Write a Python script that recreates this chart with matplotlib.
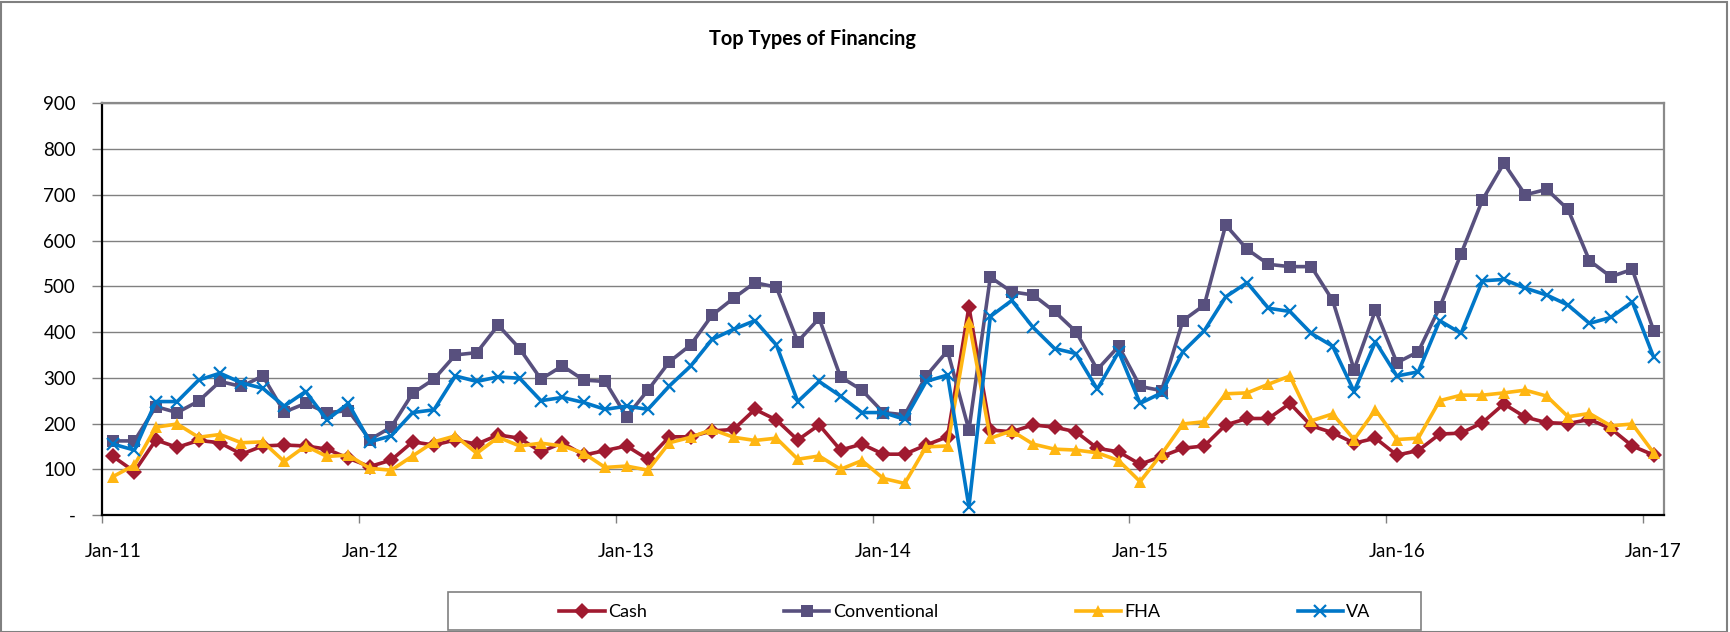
import numpy as np
import matplotlib
matplotlib.use("Agg")
import matplotlib.pyplot as plt
from matplotlib.patches import Rectangle
from matplotlib.ticker import FixedLocator, FuncFormatter

plt.rcParams['font.family'] = ['Lato', 'DejaVu Sans']

# Monthly counts, Jan-11 through Jan-17 (73 months)
cash = [128, 95, 164, 148, 163, 158, 133, 151, 153, 151, 144, 124,
        106, 120, 160, 153, 164, 155, 175, 168, 138, 158, 131, 141,
        151, 122, 171, 171, 184, 187, 231, 208, 164, 197, 142, 155,
        133, 133, 153, 171, 455, 186, 182, 197, 192, 182, 146, 138,
        111, 128, 146, 151, 197, 211, 211, 244, 195, 180, 157, 168,
        131, 141, 177, 179, 202, 243, 214, 202, 200, 209, 189, 151,
        131]
conventional = [162, 162, 237, 224, 249, 292, 281, 304, 225, 244, 224, 228,
                165, 192, 266, 297, 350, 355, 415, 364, 297, 326, 295, 292,
                215, 273, 335, 372, 437, 474, 508, 498, 379, 430, 302, 273,
                224, 219, 304, 359, 186, 520, 488, 481, 445, 401, 318, 369,
                281, 272, 425, 459, 634, 581, 548, 543, 543, 469, 318, 448,
                333, 357, 454, 571, 689, 769, 700, 712, 668, 556, 521, 537,
                403]
fha = [84, 109, 192, 199, 170, 176, 158, 160, 117, 151, 128, 131,
       102, 98, 129, 160, 173, 135, 170, 151, 157, 151, 135, 104,
       107, 98, 158, 170, 187, 170, 163, 168, 122, 129, 100, 119,
       80, 69, 149, 151, 423, 168, 184, 155, 144, 142, 136, 119,
       73, 133, 199, 204, 265, 267, 286, 304, 206, 221, 165, 230,
       165, 168, 250, 262, 262, 267, 273, 260, 215, 222, 195, 199,
       136]
va = [155, 142, 248, 248, 295, 310, 289, 277, 238, 270, 208, 244,
      160, 173, 224, 230, 304, 292, 302, 299, 250, 257, 246, 231,
      238, 231, 282, 326, 384, 406, 425, 372, 248, 292, 260, 224,
      224, 209, 292, 306, 18, 434, 469, 410, 364, 353, 275, 357,
      244, 267, 357, 403, 477, 508, 452, 445, 397, 369, 270, 379,
      304, 313, 425, 397, 512, 515, 496, 481, 459, 419, 432, 466,
      345]
year_labels = ['Jan-11', 'Jan-12', 'Jan-13', 'Jan-14', 'Jan-15', 'Jan-16', 'Jan-17']

months = np.arange(len(cash))

fig = plt.figure(figsize=(17.31, 6.32), dpi=100)
ax = fig.add_axes([0.0591, 0.1851, 0.9024, 0.6514])

series = [
    ('Cash', cash, '#A01A30', 'D', 8),
    ('Conventional', conventional, '#58507E', 's', 9),
    ('FHA', fha, '#FFB612', '^', 9),
    ('VA', va, '#0077C8', 'x', 8),
]
handles = []
for name, vals, color, marker, ms in series:
    extra = {'markeredgewidth': 1.6} if marker == 'x' else {'markeredgewidth': 0}
    h, = ax.plot(months, vals, color=color, lw=2.6, marker=marker,
                 markersize=ms, markerfacecolor=color, markeredgecolor=color,
                 label=name, **extra)
    handles.append(h)

ax.set_xlim(-0.5, len(cash) - 0.5)
ax.set_ylim(0, 900)

# y axis
ax.set_yticks(np.arange(0, 901, 100))
ax.yaxis.set_major_formatter(FuncFormatter(lambda v, p: '-' if v == 0 else f'{int(v)}'))
ax.tick_params(axis='y', length=7, width=1, color='#808080', pad=12, labelsize=13.5)
ax.grid(axis='y', color='#808080', lw=1)
ax.set_axisbelow(True)

# x axis: labels on January points, ticks on year boundaries
ax.xaxis.set_major_locator(FixedLocator(np.arange(0, len(cash), 12)))
ax.set_xticklabels(year_labels)
ax.xaxis.set_minor_locator(FixedLocator(np.arange(-0.5, len(cash) - 1, 12)))
ax.tick_params(axis='x', which='major', length=0, pad=20, labelsize=13.5)
ax.tick_params(axis='x', which='minor', length=6, width=1, color='#808080')

for side in ['left', 'bottom']:
    ax.spines[side].set_color('black')
    ax.spines[side].set_linewidth(1.6)
for side in ['top', 'right']:
    ax.spines[side].set_color('#8a8a8a')
    ax.spines[side].set_linewidth(1.6)

fig.text(813 / 1731, 1 - 38.6 / 632, 'Top Types of Financing', ha='center', va='center',
         fontsize=14.4, fontweight='bold')

# legend box and entries
fig.patches.append(Rectangle((448 / 1731, 2 / 632), 973 / 1731, 38 / 632,
                             transform=fig.transFigure, fill=False,
                             edgecolor='#808080', lw=1.2))
fig.legend(handles=handles, loc='center', bbox_to_anchor=(965 / 1731, 1 - 612 / 632),
           ncol=4, frameon=False, fontsize=13, handlelength=2.5,
           handletextpad=0.2, columnspacing=7.6)

# chart border
fig.patches.append(Rectangle((1.5 / 1731, 0.5 / 632), 1726 / 1731, 630 / 632,
                             transform=fig.transFigure, fill=False,
                             edgecolor='#808080', lw=1.5))

fig.savefig('out.png', dpi=100)
